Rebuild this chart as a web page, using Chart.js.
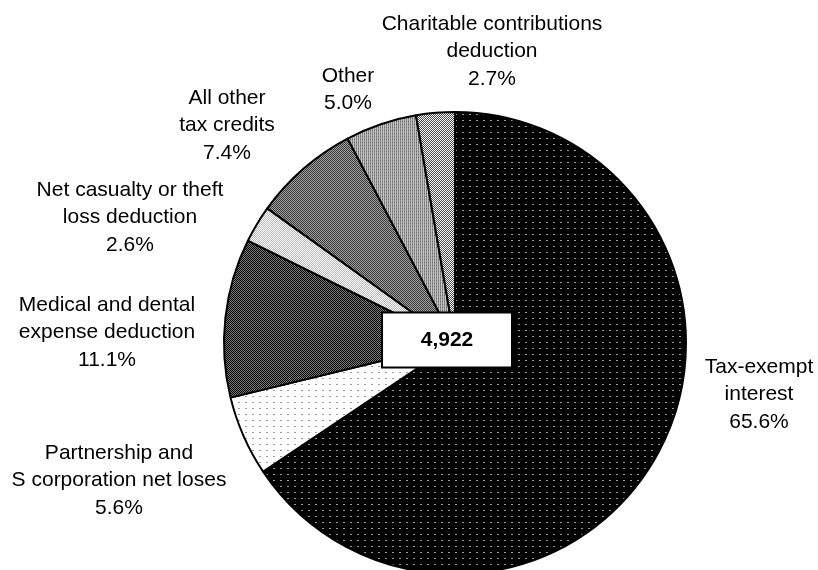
<!DOCTYPE html>
<html>
<head>
<meta charset="utf-8">
<script src="https://cdn.jsdelivr.net/npm/chart.js@4.4.1/dist/chart.umd.min.js"></script>
<style>
  html, body { margin: 0; padding: 0; background: #fff; overflow: hidden; }
  #wrap { width: 818px; height: 570px; position: relative; }
</style>
</head>
<body>
<div id="wrap"><canvas id="chartPie"></canvas></div>
<script>
// data (clockwise from 12 o'clock)
const categories = [
  ["Tax-exempt", "interest"],
  ["Partnership and", "S corporation net loses"],
  ["Medical and dental", "expense deduction"],
  ["Net casualty or theft", "loss deduction"],
  ["All other", "tax credits"],
  ["Other"],
  ["Charitable contributions", "deduction"]
];
const shares = [65.6, 5.6, 11.1, 2.6, 7.4, 5.0, 2.7];
const totalLabel = "4,922";

// where each label block goes (center x, first line y)
const labelPos = [
  [759, 367], [119, 453], [107, 305], [130, 190], [227, 98], [348, 76], [492, 24]
];

function makePattern(w, h, bg, pts) {
  const c = document.createElement("canvas");
  c.width = w; c.height = h;
  const g = c.getContext("2d");
  g.fillStyle = bg;
  g.fillRect(0, 0, w, h);
  pts.forEach(function (p) {
    g.fillStyle = p[4];
    g.fillRect(p[0], p[1], p[2], p[3]);
  });
  return g.createPattern(c, "repeat");
}

const fills = [
  makePattern(7, 6, "#000", [[0, 0, 2, 1, "#9a9a9a"]]),
  makePattern(7, 6, "#fff", [[0, 0, 2, 1, "#9a9a9a"]]),
  makePattern(2, 2, "#000", [[1, 0, 1, 1, "#7a7a7a"], [0, 1, 1, 1, "#7a7a7a"]]),
  makePattern(2, 2, "#fff", [[1, 0, 1, 1, "#b8b8b8"], [0, 1, 1, 1, "#b8b8b8"]]),
  makePattern(2, 2, "#3a3a3a", [[1, 0, 1, 1, "#a0a0a0"], [0, 1, 1, 1, "#a0a0a0"]]),
  makePattern(2, 3, "#8a8a8a", [[1, 0, 1, 3, "#c4c4c4"], [0, 1, 1, 1, "#6a6a6a"]]),
  makePattern(2, 2, "#fff", [[1, 0, 1, 1, "#4a4a4a"], [0, 1, 1, 1, "#4a4a4a"]])
];

const labelPlugin = {
  id: "pieLabels",
  afterDraw: function (chart) {
    const ctx = chart.ctx;
    ctx.save();
    ctx.fillStyle = "#000";
    ctx.font = '21px "Liberation Sans", Arial, sans-serif';
    ctx.textAlign = "center";
    ctx.textBaseline = "middle";
    categories.forEach(function (lines, i) {
      const all = lines.concat([shares[i].toFixed(1) + "%"]);
      all.forEach(function (t, j) {
        ctx.fillText(t, labelPos[i][0], labelPos[i][1] + j * 27.5);
      });
    });

    // total box in the middle
    const arc = chart.getDatasetMeta(0).data[0];
    const cx = arc.x - 8, cy = arc.y - 3;
    const bw = 130, bh = 55;
    ctx.fillStyle = "#fff";
    ctx.fillRect(cx - bw / 2, cy - bh / 2, bw, bh);
    ctx.lineWidth = 2;
    ctx.strokeStyle = "#000";
    ctx.strokeRect(cx - bw / 2, cy - bh / 2, bw, bh);
    ctx.fillStyle = "#000";
    ctx.font = 'bold 21px "Liberation Sans", Arial, sans-serif';
    ctx.fillText(totalLabel, cx, cy);
    ctx.restore();
  }
};

new Chart(document.getElementById("chartPie"), {
  type: "pie",
  data: {
    labels: categories,
    datasets: [
      {
        data: shares,
        backgroundColor: fills,
        borderColor: "#000",
        borderWidth: 2
      }
    ]
  },
  options: {
    responsive: true,
    maintainAspectRatio: false,
    animation: false,
    radius: 231,
    layout: { padding: { left: 92, top: 116, right: 0, bottom: 0 } },
    plugins: {
      legend: { display: false },
      tooltip: { enabled: false }
    }
  },
  plugins: [labelPlugin]
});
</script>
</body>
</html>
